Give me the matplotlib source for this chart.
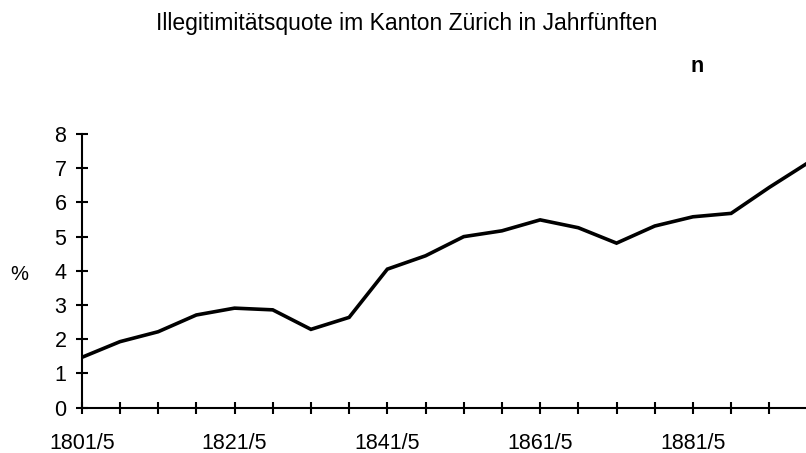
import matplotlib
matplotlib.use("Agg")
import matplotlib.pyplot as plt
from matplotlib import font_manager

names = {f.name for f in font_manager.fontManager.ttflist}
base_font = "Liberation Sans" if "Liberation Sans" in names else "DejaVu Sans"
plt.rcParams['font.family'] = [base_font, 'DejaVu Sans']

# Data
periods = ["1801/5", "1806/10", "1811/15", "1816/20", "1821/5", "1826/30",
           "1831/5", "1836/40", "1841/5", "1846/50", "1851/5", "1856/60",
           "1861/5", "1866/70", "1871/5", "1876/80", "1881/5", "1886/90",
           "1891/5", "1896/1900"]
quote = [1.47, 1.93, 2.22, 2.71, 2.91, 2.86, 2.29, 2.64, 4.05, 4.44,
         5.00, 5.17, 5.49, 5.26, 4.81, 5.31, 5.58, 5.68, 6.44, 7.15]
yticks = [0, 1, 2, 3, 4, 5, 6, 7, 8]
title = "Illegitimitätsquote im Kanton Zürich in Jahrfünften"

fig = plt.figure(figsize=(8.06, 4.53), dpi=100)
ax = fig.add_axes([0.1014, 0.1, 0.8986, 0.6042])
x = list(range(len(periods)))
ax.plot(x, quote, color="black", linewidth=2.6, solid_joinstyle="miter")

ax.set_xlim(0, 18.96)
ax.set_ylim(0, 8)
ax.set_yticks(yticks)
ax.set_yticklabels([str(v) for v in yticks])
ax.set_xticks(x[:19])
ax.set_xticklabels([p if i % 4 == 0 else "" for i, p in enumerate(periods[:19])])

for s in ["top", "right"]:
    ax.spines[s].set_visible(False)
for s in ["left", "bottom"]:
    ax.spines[s].set_linewidth(1.5)
ax.tick_params(axis="both", direction="inout", length=8, width=1.5, labelsize=15.5)
ax.tick_params(axis="x", pad=14.3)
ax.tick_params(axis="y", pad=7)

fig.text(0.505, 1 - 30 / 453, title, ha="center", va="baseline", fontsize=16.5)
fig.text(697 / 806, 1 - 72 / 453, "n", ha="center", va="baseline", fontsize=15.5,
         fontweight="bold")
fig.text(19 / 806, 1 - 274 / 453, "%", ha="center", va="center", fontsize=14.5)

fig.savefig("out.png", dpi=100)
